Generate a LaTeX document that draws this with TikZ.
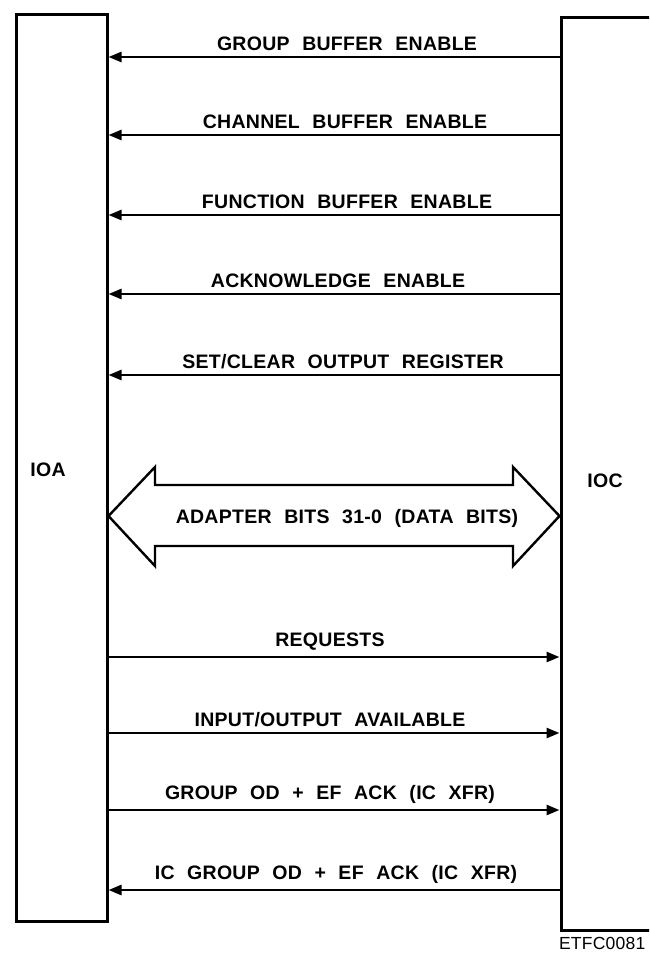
\documentclass[tikz,border=0pt]{standalone}
\usepackage{fontspec}
\setmainfont{Liberation Sans}[LetterSpace=1.5,WordSpace=2.2]
\usetikzlibrary{arrows.meta}

\begin{document}
\begin{tikzpicture}[x=1pt, y=-1pt, every node/.style={font=\fontsize{19.5}{23}\selectfont\bfseries}, >={Triangle[length=13pt,width=10pt]},
	unit/.style={draw, line width=3pt, inner sep=0pt},
	sig/.style={line width=2.6pt}]
	\clip (0,0) rectangle (649,953);
	\node[unit, minimum width=91pt, minimum height=907pt] (ioabox) at (61.5,467.5) {};
	\node[unit, minimum width=139pt, minimum height=913pt] (iocbox) at (630.5,473.5) {};
	\node (ioa) at (48,470) {IOA};
	\node (ioc) at (605,481) {IOC};
	\foreach \i/\y/\cx/\dir/\lab in {1/57/347/<-/{GROUP BUFFER ENABLE}, 2/135/345/<-/{CHANNEL BUFFER ENABLE}, 3/215/347/<-/{FUNCTION BUFFER ENABLE}, 4/294/338/<-/{ACKNOWLEDGE ENABLE}, 5/375/343/<-/{SET/CLEAR OUTPUT REGISTER}, 6/657/330/->/{REQUESTS}, 7/733/330/->/{INPUT/OUTPUT AVAILABLE}, 8/810/330/->/{GROUP OD + EF ACK (IC XFR)}, 9/890/336/<-/{IC GROUP OD + EF ACK (IC XFR)}} {
		\coordinate (l\i) at (ioabox.east |- 0,\y);
		\coordinate (r\i) at (iocbox.west |- 0,\y);
		\draw[sig, \dir] (l\i) -- (r\i);
		\node[above=3pt] (lab\i) at (\cx,\y) {\lab};
	}
	% adapter bus
	\draw[line width=2.4pt, line join=miter] (ioabox.east |- 0,516) -- (155,467) -- (155,485) -- (513,485) -- (513,467) -- (iocbox.west |- 0,516) -- (513,566) -- (513,546) -- (155,546) -- (155,566) -- cycle;
	\node (bus) at (347,518) {ADAPTER BITS 31-0 (DATA BITS)};
	\node[anchor=east, font=\fontsize{17.5}{20}\selectfont] (tag) at (649,943) {ETFC0081};
\end{tikzpicture}
\end{document}
